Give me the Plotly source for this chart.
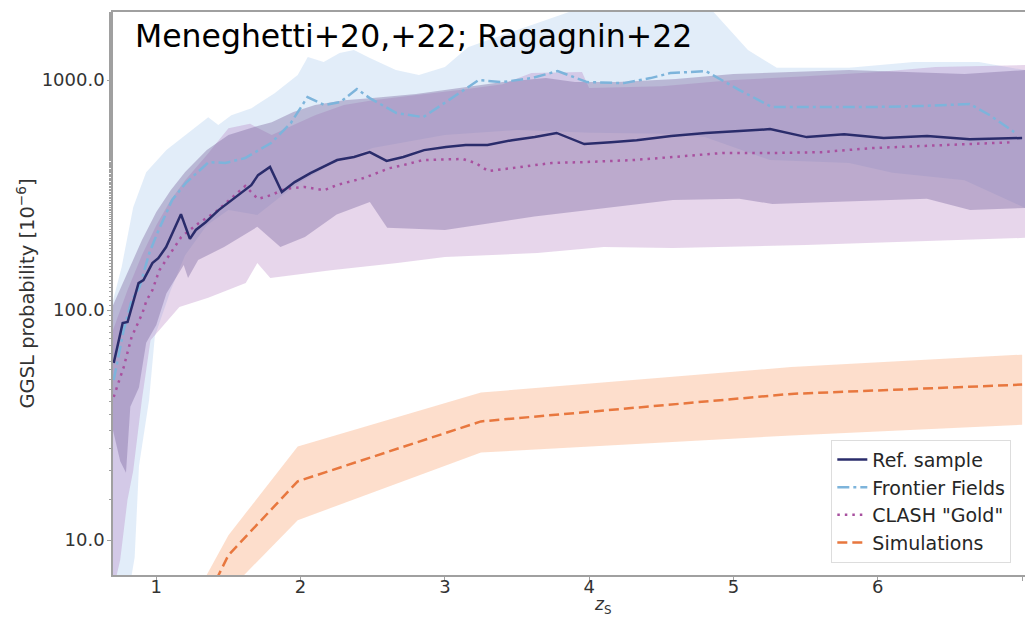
import plotly.graph_objects as go

# ---------------- data ----------------
# Reference sample (mean line)
ref_z = [0.705, 0.767, 0.801, 0.877, 0.911, 0.973, 1.014, 1.068, 1.171, 1.233, 1.274, 1.342,
         1.432, 1.548, 1.658, 1.705, 1.788, 1.870, 1.959, 2.068, 2.253, 2.370, 2.479, 2.596,
         2.712, 2.856, 3.007, 3.144, 3.295, 3.466, 3.623, 3.774, 3.966, 4.151, 4.329, 4.568,
         4.808, 5.041, 5.253, 5.507, 5.767, 6.041, 6.342, 6.637, 7.0]
ref_p = [58.9, 87.8, 88.7, 131, 135, 160, 168, 188, 261, 204, 223, 241,
         272, 310, 349, 386, 419, 326, 360, 394, 449, 463, 486, 445,
         463, 496, 512, 522, 522, 548, 565, 589, 527, 537, 548, 571,
         589, 600, 612, 565, 582, 560, 571, 553, 560]

# Frontier Fields (mean line)
ff_z = [0.705, 0.774, 0.829, 0.884, 0.952, 1.007, 1.110, 1.205, 1.363, 1.479, 1.616, 1.795,
        1.932, 2.048, 2.164, 2.274, 2.390, 2.479, 2.664, 2.849, 3.027, 3.233, 3.397, 3.603,
        3.781, 3.986, 4.240, 4.425, 4.562, 4.808, 5.041, 5.267, 5.610, 5.952, 6.295, 6.637,
        6.774, 6.945]
ff_p = [49.6, 81.8, 110, 126, 177, 216, 301, 357, 440, 436, 458, 532,
        650, 844, 779, 802, 914, 835, 719, 690, 818, 1000, 980, 1020,
        1094, 980, 970, 1020, 1073, 1094, 905, 763, 763, 763, 771, 787,
        705, 594]

# CLASH "Gold" (mean line)
cl_z = [0.705, 0.774, 0.829, 0.904, 0.932, 0.973, 1.021, 1.068, 1.110, 1.171, 1.205, 1.295,
        1.411, 1.521, 1.616, 1.705, 1.795, 1.890, 2.027, 2.164, 2.253, 2.438, 2.616, 2.712,
        2.849, 3.123, 3.212, 3.301, 3.507, 3.740, 3.966, 4.308, 4.582, 4.925, 5.267, 5.610,
        5.952, 6.295, 6.637, 6.945]
cl_p = [41.9, 56.5, 76.4, 97, 110, 122, 149, 165, 182, 207, 216, 239,
        267, 307, 346, 304, 316, 336, 343, 332, 350, 375, 414, 427,
        449, 454, 436, 402, 419, 436, 440, 449, 463, 482, 482, 486,
        506, 517, 527, 537]

# Simulations (mean, lower, upper)
sim_z = [1.0, 1.5, 1.98, 3.25, 5.4, 7.0]
sim_p = [2.0, 8.6, 18.0, 32.8, 43.2, 47.4]
sim_lo = [1.2, 6.0, 12.2, 24.0, 28.5, 31.7]
sim_hi = [2.8, 10.5, 25.5, 43.8, 56.5, 64.0]

# Frontier Fields band
ffu_z = [0.70, 0.76, 0.84, 0.93, 1.07, 1.20, 1.36, 1.43, 1.52, 1.66, 1.82, 1.98, 2.05, 2.16,
         2.27, 2.37, 2.48, 2.66, 2.82, 3.00, 3.16, 3.30, 3.50, 3.80, 4.10, 4.60, 4.85, 5.10,
         5.30, 5.80, 6.25, 6.70, 7.02]
ffu = [110, 154, 280, 397, 496, 577, 690, 637, 704, 755, 877, 1051, 1259, 1198,
       1310, 1350, 1246, 1105, 1051, 1139, 1390, 1493, 1650, 1917, 2230, 2350, 2015, 1350,
       1130, 1130, 1198, 1198, 1105]
ffl_z = [0.70, 0.80, 0.85, 0.88, 0.95, 0.99, 1.10, 1.20, 1.35, 1.50, 1.70, 1.85, 2.00, 2.20,
         2.50, 3.00, 3.50, 4.00, 4.50, 4.80, 5.25, 5.80, 6.10, 6.60, 7.02]
ffl = [5.5, 5.5, 8.4, 21, 40.6, 77, 122, 173, 234, 272, 259, 307, 360, 427,
       507, 577, 606, 590, 585, 565, 449, 436, 395, 367, 278]

# Reference sample band
rfu_z = [0.70, 0.80, 0.90, 1.00, 1.10, 1.20, 1.35, 1.50, 1.65, 1.80, 1.95, 2.10, 2.30, 2.50,
         2.80, 3.10, 3.40, 3.70, 3.90, 4.20, 4.60, 5.00, 5.40, 5.80, 6.20, 6.60, 7.02]
rfu = [105, 146, 201, 267, 332, 398, 496, 577, 618, 655, 726, 779, 818, 835,
       869, 923, 980, 1020, 980, 980, 1010, 1062, 1084, 1105, 1084, 1062, 1105]
rfl_z = [0.70, 0.75, 0.79, 0.82, 0.88, 0.93, 1.00, 1.07, 1.19, 1.22, 1.29, 1.47, 1.70, 1.86,
         2.03, 2.25, 2.48, 2.60, 3.00, 3.62, 4.58, 5.04, 5.27, 6.34, 6.64, 7.02]
rfl = [30, 22, 19.6, 38, 46, 72, 86, 118, 157, 138, 165, 188, 230, 188,
       208, 260, 295, 228, 223, 255, 301, 305, 289, 305, 272, 278]

# CLASH band
clu_z = [0.70, 0.80, 0.90, 1.00, 1.10, 1.20, 1.35, 1.50, 1.65, 1.80, 1.95, 2.10, 2.30, 2.50,
         2.80, 3.10, 3.40, 3.60, 3.95, 4.00, 4.50, 5.00, 5.50, 6.00, 6.40, 7.02]
clu = [82, 122, 173, 234, 301, 367, 472, 618, 645, 577, 637, 704, 779, 818,
       861, 905, 960, 1073, 1084, 923, 940, 1000, 1040, 1084, 1139, 1162]
cll_z = [0.70, 0.75, 0.80, 0.84, 0.90, 0.96, 1.00, 1.07, 1.16, 1.36, 1.62, 1.70, 1.79, 2.21,
         2.67, 3.00, 3.64, 4.10, 4.58, 5.50, 7.02]
cll = [6.0, 8.2, 14.9, 20, 40.6, 74, 79, 89, 103, 113, 131, 160, 138, 149,
       160, 170, 177, 188, 186, 192, 206]

x_ticks = [1, 2, 3, 4, 5, 6, 7]
y_ticks = [10, 100, 1000]
y_ticktext = ["10.0", "100.0", "1000.0"]

names = ["Ref. sample", "Frontier Fields", 'CLASH "Gold"', "Simulations"]

FONT = "DejaVu Sans"

fig = go.Figure()


def band(zu, up, zl, lo, color):
    fig.add_trace(go.Scatter(
        x=list(zu) + list(zl)[::-1],
        y=list(up) + list(lo)[::-1],
        fill="toself", fillcolor=color, mode="lines",
        line=dict(width=0), showlegend=False, hoverinfo="skip"))


band(ffu_z, ffu, ffl_z, ffl, "rgba(150,190,235,0.28)")
band(clu_z, clu, cll_z, cll, "rgba(176,120,190,0.30)")
band(rfu_z, rfu, rfl_z, rfl, "rgba(125,105,160,0.40)")
band(sim_z, sim_hi, sim_z, sim_lo, "rgba(250,160,110,0.35)")

fig.add_trace(go.Scatter(x=ff_z, y=ff_p, mode="lines", name=names[1], legendrank=2,
                         line=dict(color="#7db4db", width=2.5, dash="12px,4px,3px,4px")))
fig.add_trace(go.Scatter(x=cl_z, y=cl_p, mode="lines", name=names[2], legendrank=3,
                         line=dict(color="#a8509f", width=2.5, dash="2.5px,5px")))
fig.add_trace(go.Scatter(x=sim_z, y=sim_p, mode="lines", name=names[3], legendrank=4,
                         line=dict(color="#e8773e", width=2.5, dash="10px,5px")))
fig.add_trace(go.Scatter(x=ref_z, y=ref_p, mode="lines", name=names[0], legendrank=1,
                         line=dict(color="#2a2c6b", width=2.5)))

fig.add_annotation(text="Meneghetti+20,+22; Ragagnin+22", xref="paper", yref="paper",
                   x=0.022, y=0.957, xanchor="left", yanchor="middle", showarrow=False,
                   font=dict(family=FONT, size=31.5, color="#000000"))

# x-axis title (placed as in the reference, whose plot area runs past the right edge)
fig.add_annotation(text="<i>z</i><sub>S</sub>", xref="paper", yref="paper",
                   x=0.537, y=-0.0545, xanchor="center", yanchor="middle", showarrow=False,
                   borderpad=0, font=dict(family=FONT, size=17, color="#333333"))

axis_common = dict(showline=True, mirror=True, linecolor="#a0a0a0", linewidth=1.5,
                   showgrid=False, zeroline=False, ticks="outside", ticklen=4,
                   tickcolor="#a0a0a0", tickfont=dict(family=FONT, size=18, color="#333333"))

fig.update_xaxes(range=[0.70, 7.02], tickvals=x_ticks, ticklabelstandoff=-9,
                 **axis_common)
fig.update_yaxes(type="log", range=[0.848, 3.296], tickvals=y_ticks, ticktext=y_ticktext,
                 ticklabelstandoff=-1,
                 minor=dict(ticks="outside", ticklen=2, tickcolor="#a0a0a0"),
                 title=dict(text="GGSL probability [10<sup>−6</sup>]",
                            font=dict(family=FONT, size=19.5, color="#333333"), standoff=2),
                 **axis_common)

fig.update_layout(
    width=1025, height=617,
    margin=dict(l=113, r=0, t=12, b=42, autoexpand=False),
    paper_bgcolor="white", plot_bgcolor="white",
    font=dict(family=FONT),
    legend=dict(x=0.985, y=0.022, xanchor="right", yanchor="bottom",
                bgcolor="rgba(255,255,255,0.85)", bordercolor="#dddddd", borderwidth=1,
                font=dict(family=FONT, size=19, color="#262626")),
)

fig.write_html("out.html")
